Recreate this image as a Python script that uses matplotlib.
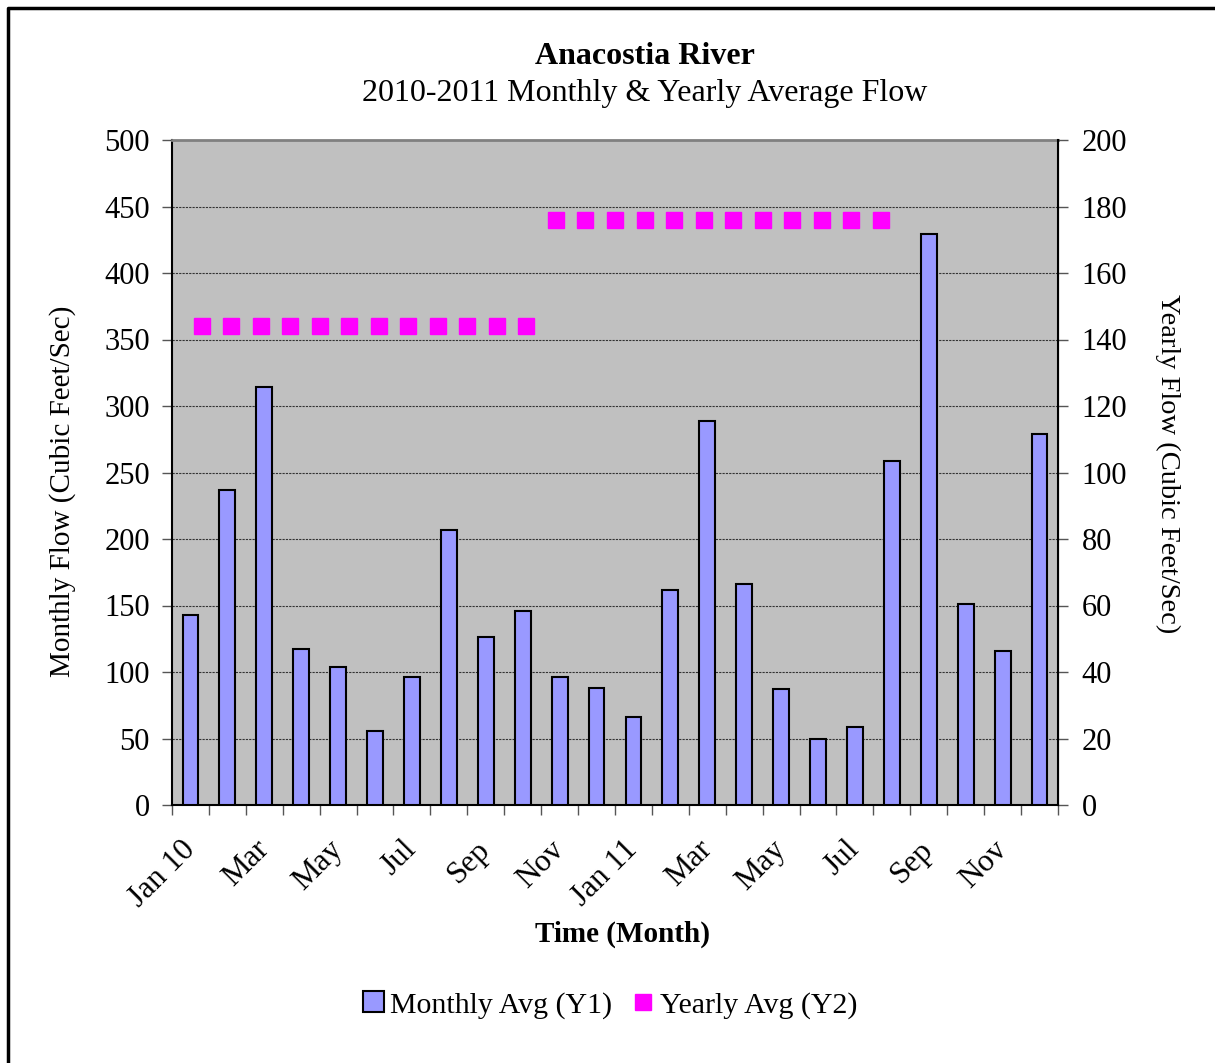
import matplotlib
matplotlib.use("Agg")
import matplotlib.pyplot as plt
from matplotlib.lines import Line2D
from matplotlib.patches import Patch
import numpy as np

plt.rcParams["font.family"] = ["Liberation Serif", "DejaVu Serif"]

# ── data ────────────────────────────────────────────────────────────
months = ["Jan 10", "Feb", "Mar", "Apr", "May", "Jun", "Jul", "Aug", "Sep", "Oct", "Nov", "Dec",
          "Jan 11", "Feb", "Mar", "Apr", "May", "Jun", "Jul", "Aug", "Sep", "Oct", "Nov", "Dec"]
monthly_avg = [143, 237, 314, 117, 104, 56, 96, 207, 126, 146, 96, 88,
               66, 162, 289, 166, 87, 50, 59, 259, 429, 151, 116, 279]
yearly_avg = [144] * 12 + [176] * 12

BAR_COLOR = "#9999FF"
MARKER_COLOR = "#FF00FF"
PLOT_BG = "#C0C0C0"

fig = plt.figure(figsize=(12.15, 10.63), dpi=100)
ax = fig.add_axes([172 / 1215, 1 - 805 / 1063, 886 / 1215, 665 / 1063])
ax.set_facecolor(PLOT_BG)

x = np.arange(len(months))
ax.bar(x, monthly_avg, width=0.43, color=BAR_COLOR, edgecolor="black", linewidth=1.5, zorder=3)
ax.set_xlim(-0.5, len(months) - 0.5)
ax.set_ylim(0, 500)
ax.set_yticks(range(0, 501, 50))
ax.grid(axis="y", color="#333333", linestyle=(0, (2, 1)), linewidth=0.8, zorder=1)

# category boundary ticks, labels on every other category
ax.set_xticks(np.arange(-0.5, len(months), 1.0))
ax.set_xticklabels([])
ax.set_xticks(x[::2], minor=True)
ax.set_xticklabels(months[::2], minor=True, rotation=45, ha="right", va="center",
                   rotation_mode="anchor", fontsize=22.5)
ax.tick_params(axis="x", which="major", length=7, width=1, color="#555555")
ax.tick_params(axis="x", which="minor", length=0, pad=29)
ax.tick_params(axis="y", labelsize=22, length=7, width=1, color="#555555", pad=9)

for side in ["left", "bottom"]:
    ax.spines[side].set_linewidth(1.5)
ax.spines["top"].set_color("#808080")
ax.spines["top"].set_linewidth(2)
ax.spines["right"].set_visible(False)

ax.set_ylabel("Monthly Flow (Cubic Feet/Sec)", fontsize=21, va="center")
ax.yaxis.set_label_coords(-0.124, 0.472)
ax.set_xlabel("Time (Month)", fontsize=21, fontweight="bold", va="center")
ax.xaxis.set_label_coords(0.508, -0.195)

# secondary axis for the yearly averages
ax2 = ax.twinx().twiny()
ax2.set_xlim(0, 30)
ax2.set_ylim(0, 200)
ax2.plot(np.arange(1, len(yearly_avg) + 1), yearly_avg, linestyle="none", marker="s",
         markersize=11, color=MARKER_COLOR, zorder=4)
ax2.set_xticks([])
for side in ["left", "top", "bottom"]:
    ax2.spines[side].set_visible(False)

ay2 = fig.axes[1]
ay2.set_ylim(0, 200)
ay2.set_yticks(range(0, 201, 20))
ay2.tick_params(axis="y", labelsize=22, length=7, width=1, color="#555555", pad=10)
ay2.spines["right"].set_linewidth(1.5)
for side in ["left", "top", "bottom"]:
    ay2.spines[side].set_visible(False)
ay2.set_ylabel("Yearly Flow (Cubic Feet/Sec)", fontsize=20.5, rotation=-90, va="center")
ay2.yaxis.set_label_coords(1.124, 0.513)

fig.text(0.531, 1 - 56 / 1063, "Anacostia River", ha="center", va="center",
         fontsize=23, fontweight="bold")
fig.text(0.531, 1 - 93 / 1063, "2010-2011 Monthly & Yearly Average Flow", ha="center",
         va="center", fontsize=23)

handles = [Patch(facecolor=BAR_COLOR, edgecolor="black", linewidth=1.5),
           Line2D([], [], linestyle="none", marker="s", markersize=12, color=MARKER_COLOR)]
fig.legend(handles, ["Monthly Avg (Y1)", "Yearly Avg (Y2)"], loc="center",
           bbox_to_anchor=(0.502, 1 - 1005 / 1063), ncol=2, frameon=False, fontsize=21.5,
           handlelength=0.7, handleheight=0.7, handletextpad=0.2, columnspacing=0.7)

# outer chart border (top and left edges are visible in the image)
fig.add_artist(Line2D([8 / 1215, 8 / 1215, 1.01], [-0.01, 1 - 8 / 1063, 1 - 8 / 1063],
                      transform=fig.transFigure, color="black", linewidth=2.5))

fig.savefig("out.png", dpi=100)
